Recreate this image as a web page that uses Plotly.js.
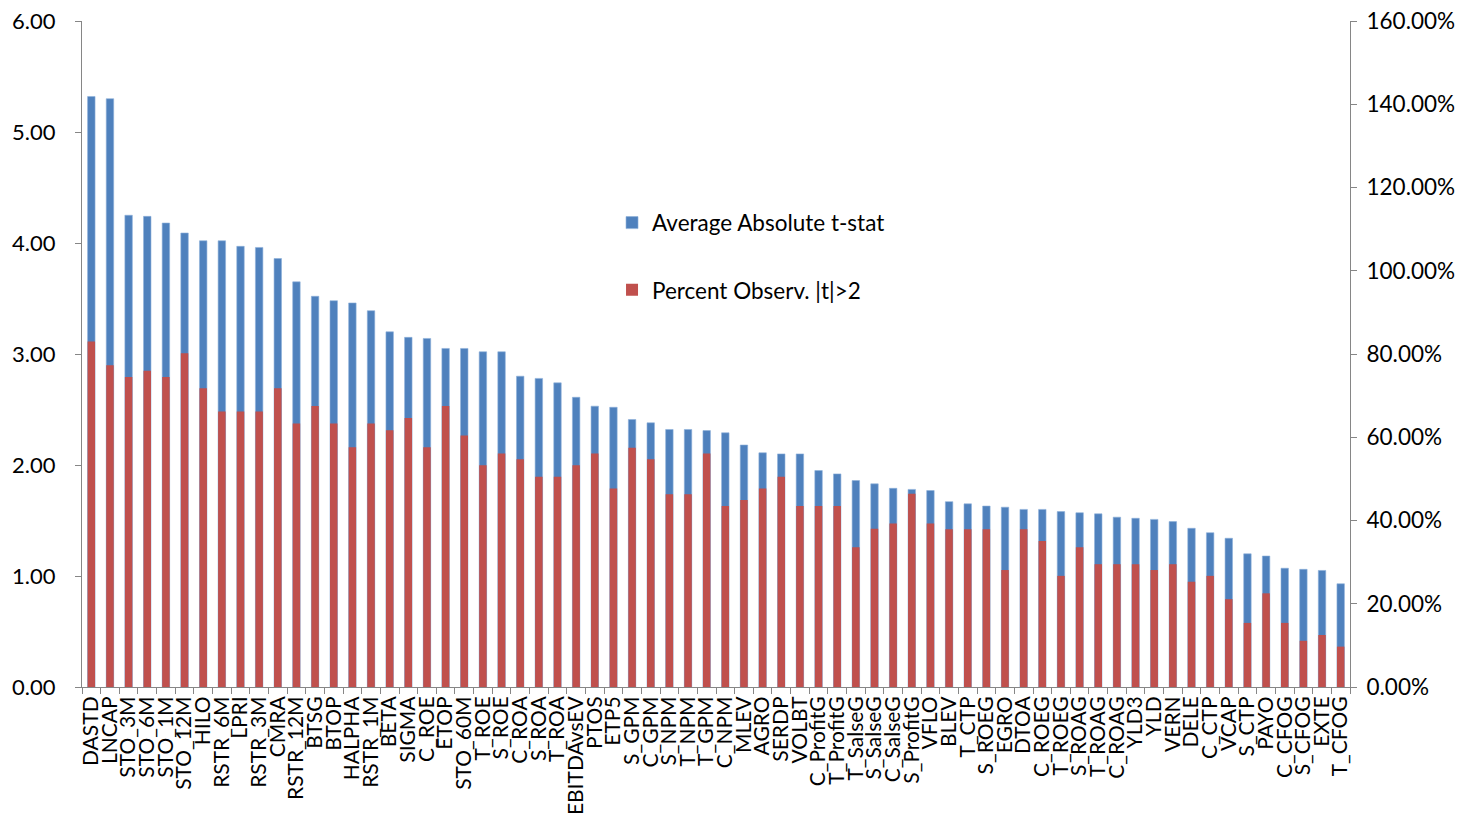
<!DOCTYPE html>
<html>
<head>
<meta charset="utf-8">
<script src="https://cdn.plot.ly/plotly-3.0.1.min.js"></script>
<style>html,body{margin:0;padding:0;background:#fff;}#chart{width:1464px;height:828px;}</style>
</head>
<body>
<div id="chart"></div>
<script>
const categories = ["DASTD","LNCAP","STO_3M","STO_6M","STO_1M","STO_12M","HILO","RSTR_6M","LPRI","RSTR_3M","CMRA","RSTR_12M","BTSG","BTOP","HALPHA","RSTR_1M","BETA","SIGMA","C_ROE","ETOP","STO_60M","T_ROE","S_ROE","C_ROA","S_ROA","T_ROA","EBITDAvsEV","PTOS","ETP5","S_GPM","C_GPM","S_NPM","T_NPM","T_GPM","C_NPM","MLEV","AGRO","SERDP","VOLBT","C_ProfitG","T_ProfitG","T_SalseG","S_SalseG","C_SalseG","S_ProfitG","VFLO","BLEV","T_CTP","S_ROEG","EGRO","DTOA","C_ROEG","T_ROEG","S_ROAG","T_ROAG","C_ROAG","YLD3","YLD","VERN","DELE","C_CTP","VCAP","S_CTP","PAYO","C_CFOG","S_CFOG","EXTE","T_CFOG"];

const avgAbsTstat = [5.32,5.30,4.25,4.24,4.18,4.09,4.02,4.02,3.97,3.96,3.86,3.65,3.52,3.48,3.46,3.39,3.20,3.15,3.14,3.05,3.05,3.02,3.02,2.80,2.78,2.74,2.61,2.53,2.52,2.41,2.38,2.32,2.32,2.31,2.29,2.18,2.11,2.10,2.10,1.95,1.92,1.86,1.83,1.79,1.78,1.77,1.67,1.65,1.63,1.62,1.60,1.60,1.58,1.57,1.56,1.53,1.52,1.51,1.49,1.43,1.39,1.34,1.20,1.18,1.07,1.06,1.05,0.93];

const pctObservPercent = [83.0,77.3,74.5,76.0,74.5,80.2,71.8,66.2,66.2,66.2,71.8,63.3,67.5,63.3,57.6,63.3,61.7,64.6,57.6,67.5,60.4,53.3,56.1,54.7,50.5,50.5,53.3,56.1,47.7,57.5,54.7,46.3,46.3,56.1,43.5,44.9,47.7,50.5,43.5,43.5,43.5,33.6,38.0,39.3,46.4,39.3,37.9,37.9,37.9,28.1,37.9,35.1,26.7,33.6,29.5,29.5,29.5,28.1,29.5,25.3,26.7,21.1,15.4,22.5,15.4,11.1,12.5,9.7];

const pctObserv = pctObservPercent.map(v => v / 100);

const FONT = "Lato, 'Open Sans', sans-serif";
const axisColor = "#868686";

const traces = [
  {
    type: "bar",
    name: "Average Absolute t-stat",
    x: categories,
    y: avgAbsTstat,
    yaxis: "y",
    width: 0.4,
    marker: {color: "#4F81BD", line: {color: "#8DB0DA", width: 0.6}},
    legendgroup: "a",
    hoverinfo: "x+y"
  },
  {
    type: "bar",
    name: "Percent Observ. |t|>2",
    x: categories,
    y: pctObserv,
    yaxis: "y2",
    width: 0.4,
    marker: {color: "#C0504D", line: {width: 0}},
    legendgroup: "b",
    hoverinfo: "x+y"
  }
];

const layout = {
  width: 1464,
  height: 828,
  paper_bgcolor: "#fff",
  plot_bgcolor: "#fff",
  barmode: "overlay",
  font: {family: FONT, size: 22, color: "#000"},
  margin: {l: 82, r: 114, t: 21, b: 141, pad: 0},
  showlegend: true,
  legend: {
    x: 0.418, y: 0.729, xanchor: "left", yanchor: "top",
    traceorder: "grouped", tracegroupgap: 35,
    bgcolor: "rgba(0,0,0,0)",
    font: {family: FONT, size: 22.5, color: "#000"}
  },
  xaxis: {
    type: "category",
    automargin: false,
    tickmode: "linear", tick0: 0, dtick: 1,
    showline: true, linecolor: axisColor, linewidth: 1,
    ticks: "outside", tickson: "boundaries", ticklen: 6, tickcolor: axisColor,
    tickangle: -90,
    tickfont: {family: FONT, size: 21, color: "#000"},
    showgrid: false, zeroline: false
  },
  yaxis: {
    range: [0, 6], dtick: 1, tick0: 0, tickformat: ".2f",
    automargin: false,
    showline: true, linecolor: axisColor, linewidth: 1,
    ticks: "outside", ticklen: 6, tickcolor: axisColor,
    ticklabelstandoff: 15,
    tickfont: {family: FONT, size: 22, color: "#000"},
    showgrid: false, zeroline: false
  },
  yaxis2: {
    range: [0, 1.6], dtick: 0.2, tick0: 0, tickformat: ".2%",
    overlaying: "y", side: "right",
    automargin: false,
    showline: true, linecolor: axisColor, linewidth: 1,
    ticks: "outside", ticklen: 6, tickcolor: axisColor,
    ticklabelstandoff: 5,
    tickfont: {family: FONT, size: 22.5, color: "#000"},
    showgrid: false, zeroline: false
  }
};

Plotly.newPlot("chart", traces, layout, {staticPlot: true, displayModeBar: false});
</script>
</body>
</html>
